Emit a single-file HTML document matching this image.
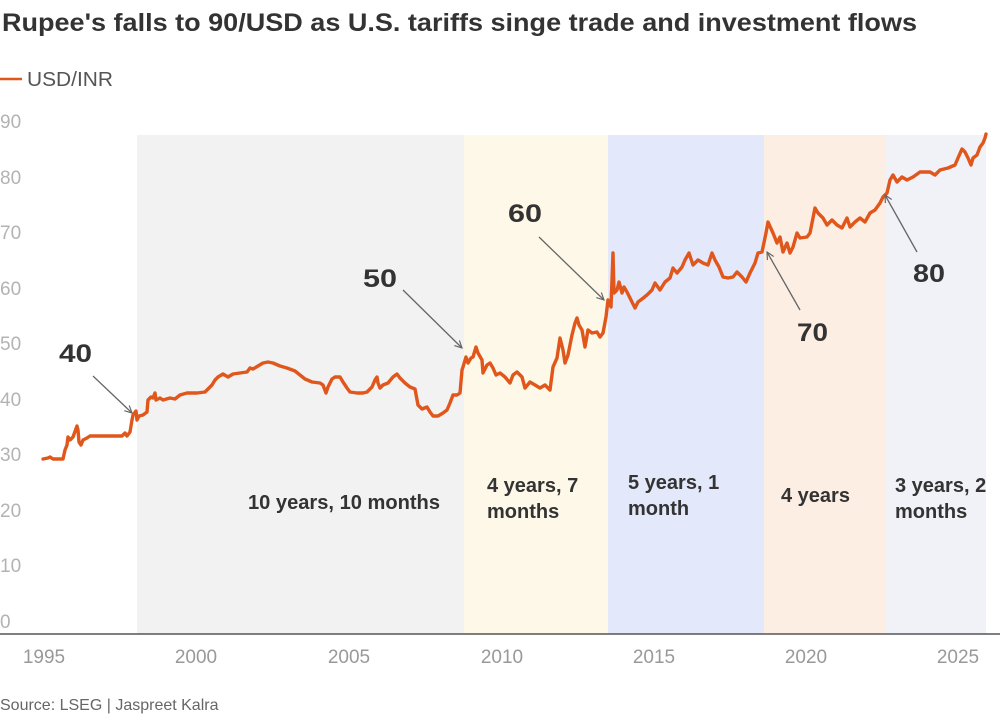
<!DOCTYPE html>
<html><head><meta charset="utf-8"><style>
html,body{margin:0;padding:0;background:#fff;}
svg{display:block;font-family:"Liberation Sans",sans-serif;}
</style></head><body>
<svg width="1000" height="715" viewBox="0 0 1000 715" xmlns="http://www.w3.org/2000/svg">
<defs>
<marker id="ah" viewBox="0 0 10 10" refX="9" refY="5" markerWidth="9" markerHeight="9" markerUnits="userSpaceOnUse" orient="auto">
<path d="M1,1 L9,5 L1,9" fill="none" stroke="#666" stroke-width="1.3"/>
</marker>
</defs>
<text x="2" y="31" font-size="25" font-weight="bold" fill="#333" textLength="915" lengthAdjust="spacingAndGlyphs">Rupee's falls to 90/USD as U.S. tariffs singe trade and investment flows</text>
<line x1="0" y1="79" x2="22" y2="79" stroke="#e0561b" stroke-width="2.5"/>
<text x="27" y="86" font-size="20" fill="#555" textLength="86" lengthAdjust="spacingAndGlyphs">USD/INR</text>

<rect x="137" y="135" width="327" height="499" fill="#f2f2f2"/>
<rect x="464" y="135" width="144" height="499" fill="#fdf8e8"/>
<rect x="608" y="135" width="156" height="499" fill="#e4e8fb"/>
<rect x="764" y="135" width="122" height="499" fill="#fdeee3"/>
<rect x="886" y="135" width="100" height="499" fill="#f1f1f8"/>

<g font-size="19" fill="#b3b3b3">
<text x="0" y="128">90</text>
<text x="0" y="184">80</text>
<text x="0" y="239">70</text>
<text x="0" y="295">60</text>
<text x="0" y="350">50</text>
<text x="0" y="406">40</text>
<text x="0" y="461">30</text>
<text x="0" y="517">20</text>
<text x="0" y="572">10</text>
<text x="0" y="628">0</text>
</g>

<g font-size="20" font-weight="bold" fill="#333">
<text x="248" y="509" textLength="192" lengthAdjust="spacingAndGlyphs">10 years, 10 months</text>
<text x="487" y="492">4 years, 7</text>
<text x="487" y="518">months</text>
<text x="628" y="489">5 years, 1</text>
<text x="628" y="515">month</text>
<text x="781" y="502">4 years</text>
<text x="895" y="492">3 years, 2</text>
<text x="895" y="518">months</text>
</g>

<polyline fill="none" stroke="#e0561b" stroke-width="3.4" stroke-linejoin="round" stroke-linecap="round" points="
43,459 48,458 50,457 53,459 63,459 65,450 67,445 68,437 70,440 72,438 73,437 77,426 78,430 79,442 81,445 83,440 87,438 90,436 97,436 110,436 122,436 125,433 127,436 130,432 132,420 133,415 136,411 137,420 139,416 143,415 147,412 148,400 151,397 153,398 155,393 156,400 160,398 163,400 170,398 175,399 180,395 187,393 197,393 205,392 208,389 212,385 215,380 218,377 223,374 228,377 233,374 240,373 247,372 250,368 253,369 258,366 263,363 268,362 273,363 280,366 287,368 295,371 300,375 305,379 312,382 320,383 323,385 326,393 328,387 332,379 335,377 340,377 343,382 347,388 350,392 357,393 363,393 367,392 372,387 375,380 377,377 378,383 380,388 383,385 388,383 393,377 397,374 400,378 405,383 410,387 415,389 418,405 422,409 427,407 430,412 433,416 438,416 443,413 447,410 450,403 453,395 457,395 460,393 462,370 463,367 466,357 468,363 471,358 473,357 476,347 478,353 482,360 483,373 487,365 490,363 493,368 496,375 500,373 505,377 510,383 513,375 517,372 522,377 525,388 530,382 535,385 540,388 545,385 550,390 553,367 557,358 560,338 563,350 565,363 568,355 572,335 575,323 577,318 579,325 582,330 585,347 588,330 592,333 597,332 600,337 603,333 606,317 608,300 611,307 613,253 614,293 617,290 619,282 622,293 624,287 627,292 631,300 635,308 638,302 642,299 647,295 652,290 655,283 660,290 665,282 670,278 673,268 677,273 682,267 685,260 689,253 693,265 698,260 703,263 708,265 712,253 715,260 719,267 723,277 728,278 733,277 737,272 742,277 746,282 750,273 755,263 758,253 762,252 766,233 768,222 773,233 777,243 780,237 783,252 787,243 790,253 793,247 797,233 800,238 807,237 810,233 815,208 818,213 823,218 827,225 832,220 837,225 842,228 847,218 850,227 855,222 860,218 865,222 870,213 875,210 880,203 883,197 887,193 890,180 893,175 897,182 902,177 907,180 913,177 920,172 930,172 935,175 940,170 948,168 955,165 958,158 962,149 965,152 968,158 971,165 973,158 977,155 980,147 983,143 985,138 986,134"/>

<g stroke="#666" stroke-width="1.3" marker-end="url(#ah)">
<line x1="93" y1="376" x2="132" y2="413"/>
<line x1="403" y1="290" x2="462" y2="348"/>
<line x1="539" y1="237" x2="604" y2="300"/>
<line x1="800" y1="310" x2="767" y2="252"/>
<line x1="917" y1="252" x2="885" y2="195"/>
</g>

<g font-size="25" font-weight="bold" fill="#333">
<text x="59" y="362" textLength="33" lengthAdjust="spacingAndGlyphs">40</text>
<text x="363" y="287" textLength="34" lengthAdjust="spacingAndGlyphs">50</text>
<text x="508" y="222" textLength="34" lengthAdjust="spacingAndGlyphs">60</text>
<text x="797" y="341" textLength="31" lengthAdjust="spacingAndGlyphs">70</text>
<text x="913" y="282" textLength="32" lengthAdjust="spacingAndGlyphs">80</text>
</g>

<line x1="0" y1="634" x2="1000" y2="634" stroke="#555" stroke-width="1.5"/>

<g font-size="19" fill="#999" text-anchor="middle">
<text x="44" y="663">1995</text>
<text x="196" y="663">2000</text>
<text x="349" y="663">2005</text>
<text x="502" y="663">2010</text>
<text x="654" y="663">2015</text>
<text x="806" y="663">2020</text>
<text x="958" y="663">2025</text>
</g>

<text x="0" y="710" font-size="16" fill="#666">Source: LSEG | Jaspreet Kalra</text>
</svg>
</body></html>
